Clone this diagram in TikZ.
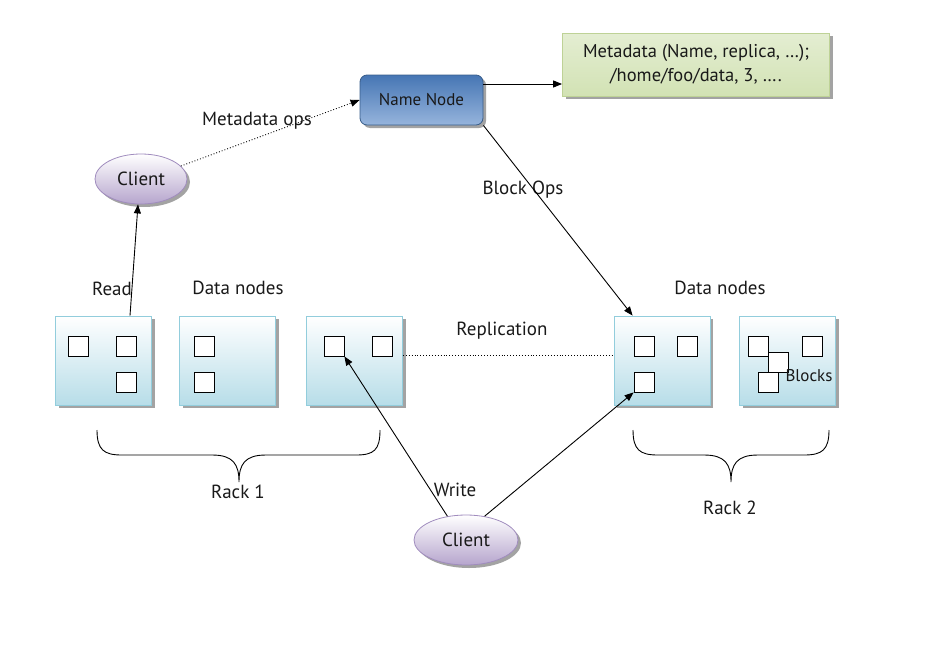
\documentclass[tikz,border=0pt]{standalone}
\usepackage{fontspec}
\setmainfont{PT Sans}
\usetikzlibrary{arrows.meta,shapes.geometric,shadows,calc}
\definecolor{dnfill}{RGB}{183,221,232}
\definecolor{dnline}{RGB}{146,205,220}
\definecolor{nntop}{RGB}{70,118,180}
\definecolor{nnbot}{RGB}{150,180,220}
\definecolor{nnline}{RGB}{56,93,138}
\definecolor{mdfill}{RGB}{210,226,180}
\definecolor{mdline}{RGB}{190,210,150}
\definecolor{clfill}{RGB}{182,165,205}
\definecolor{clline}{RGB}{160,140,190}
\tikzset{
  every node/.style={font=\fontsize{19}{22}\selectfont, text=black!90},
  arr/.style={draw=black, line width=0.9pt, -{Triangle[length=9pt,width=7pt]}},
  dotarr/.style={draw=black, line width=0.9pt, dotted, -{Triangle[length=9pt,width=7pt]}},
  shad/.style={drop shadow={shadow xshift=3pt, shadow yshift=-3pt, fill=black!45, opacity=0.8}},
  dnbox/.style={shad, draw=dnline, line width=0.8pt, shading=axis, top color=white, bottom color=dnfill, minimum width=96pt, minimum height=89pt, inner sep=0pt},
  blk/.style={draw=black, fill=white, line width=0.8pt, minimum size=20pt, inner sep=0pt},
  client/.style={ellipse, shad, draw=clline, line width=0.8pt, shading=axis, top color=white, bottom color=clfill, minimum width=92pt, minimum height=50pt, inner sep=0pt},
  brace/.style={draw=black, line width=0.9pt}
}
\begin{document}
\begin{tikzpicture}[x=1pt,y=-1pt]
\useasboundingbox (0,0) rectangle (947,648);
% Metadata box
\node[shad, draw=mdline, line width=0.8pt, shading=axis, top color=white!40!mdfill, bottom color=mdfill, minimum width=267pt, minimum height=63pt, align=center, inner sep=0pt, font=\fontsize{18.5}{24}\selectfont] (md) at (696,64.5) {Metadata (Name, replica, \dots);\\/home/foo/data, 3, \dots.};
% Name node
\node[shad, draw=nnline, line width=0.8pt, rounded corners=7pt, shading=axis, top color=nntop, bottom color=nnbot, minimum width=123pt, minimum height=50pt, inner sep=0pt, font=\fontsize{17}{20}\selectfont] (nn) at (421.5,100) {Name Node};
% Clients
\node[client] (c1) at (141,179) {Client};
\node[client, minimum width=104pt] (c2) at (466,540) {Client};
% Data nodes
\node[dnbox] (dn1) at (103.5,360.5) {};
\node[dnbox] (dn2) at (227.5,360.5) {};
\node[dnbox] (dn3) at (354.5,360.5) {};
\node[dnbox] (dn4) at (662,360.5) {};
\node[dnbox] (dn5) at (787.5,360.5) {};
% blocks
\node[blk] (b1a) at (78,346) {};
\node[blk] (b1b) at (126,346) {};
\node[blk] (b1c) at (126,382) {};
\node[blk] (b2a) at (204,346) {};
\node[blk] (b2b) at (204,382) {};
\node[blk] (b3a) at (334,346) {};
\node[blk] (b3b) at (382,346) {};
\node[blk] (b4a) at (644,346) {};
\node[blk] (b4b) at (687,346) {};
\node[blk] (b4c) at (644,382) {};
\node[blk] (b5a) at (758,346) {};
\node[blk] (b5b) at (812,346) {};
\node[blk] (b5c) at (778,362) {};
\node[blk] (b5d) at (768,382) {};
\node[font=\fontsize{17}{20}\selectfont] (blocks) at (809,376) {Blocks};
% labels
\node (lmo) at (257,121) {Metadata ops};
\node (lbo) at (523,190) {Block Ops};
\node (lread) at (112,289) {Read};
\node (ldn1) at (238,288) {Data nodes};
\node (ldn2) at (720,288) {Data nodes};
\node (lrep) at (502,331) {Replication};
\node (lwrite) at (455,490) {Write};
\node (lr1) at (238,492) {Rack 1};
\node (lr2) at (730,508) {Rack 2};
% connectors
\draw[arr] ([yshift=16pt]nn.east) -- ([yshift=16pt]nn.east -| md.west);
\draw[dotarr] (c1.18) -- (nn.west);
\draw[arr] ([xshift=26.5pt]dn1.north) -- ([xshift=-3pt]c1.south);
\draw[arr] (nn.south east) -- ([xshift=19pt]dn4.north west);
\draw[line width=0.9pt, dotted] ([yshift=5pt]dn3.east) -- ([yshift=5pt]dn4.west);
\draw[arr] (c2.128) -- (b3a.south east);
\draw[arr] (c2.52) -- (b4c.south west);
% braces
\coordinate (r1l) at (97,430);
\coordinate (r1r) at (380,430);
\coordinate (r1t) at (239,482);
\draw[brace] (r1l) .. controls (97,450) and (104,455) .. (122,455) -- (212,455)
  .. controls (233,455) and (239,464) .. (r1t)
  .. controls (239,464) and (245,455) .. (266,455) -- (356,455)
  .. controls (374,455) and (380,450) .. (r1r);
\coordinate (r2l) at (633,430);
\coordinate (r2r) at (829,430);
\coordinate (r2t) at (731,482);
\draw[brace] (r2l) .. controls (633,450) and (640,455) .. (658,455) -- (704,455)
  .. controls (725,455) and (731,464) .. (r2t)
  .. controls (731,464) and (737,455) .. (758,455) -- (804,455)
  .. controls (822,455) and (829,450) .. (r2r);
\end{tikzpicture}
\end{document}
